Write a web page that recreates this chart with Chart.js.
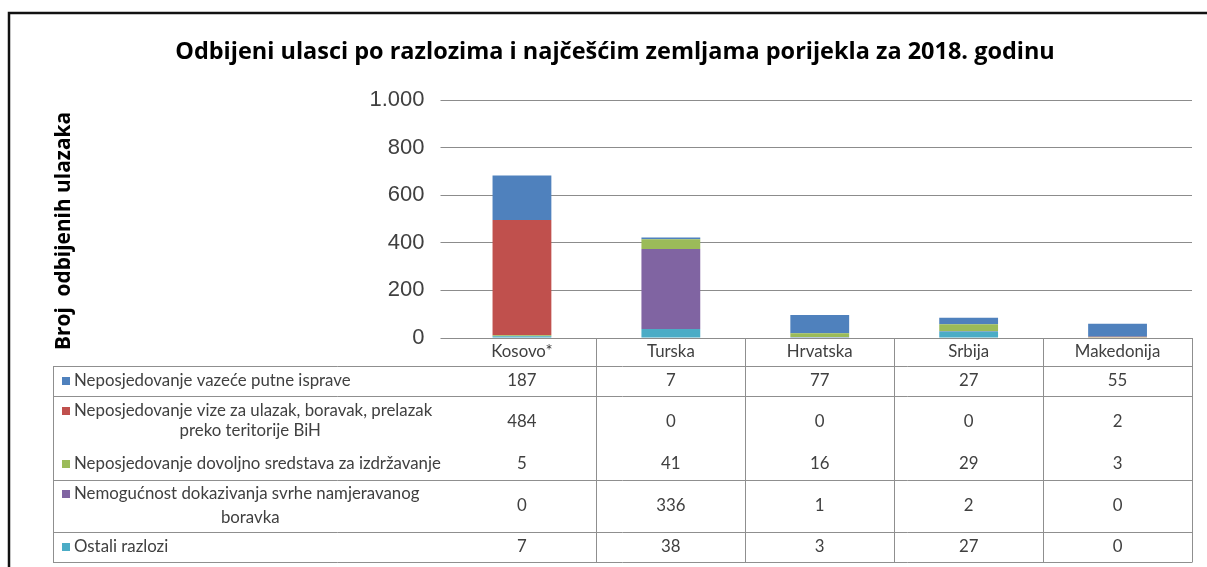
<!DOCTYPE html>
<html>
<head>
<meta charset="utf-8">
<script src="https://cdn.jsdelivr.net/npm/chart.js@4/dist/chart.umd.min.js"></script>
<style>
html,body{margin:0;padding:0;background:#fff;}
canvas{display:block;}
</style>
</head>
<body>
<canvas id="c" width="1207" height="567"></canvas>
<script>
const chartTitle = 'Odbijeni ulasci po razlozima i najčešćim zemljama porijekla za 2018. godinu';
const yTitle = 'Broj  odbijenih ulazaka';
const categories = ['Kosovo*', 'Turska', 'Hrvatska', 'Srbija', 'Makedonija'];
const putneIsprave = [187, 7, 77, 27, 55];
const vize = [484, 0, 0, 0, 2];
const sredstva = [5, 41, 16, 29, 3];
const svrha = [0, 336, 1, 2, 0];
const ostali = [7, 38, 3, 27, 0];
const yTicks = [0, 200, 400, 600, 800, 1000];

const labelPutne = ['Neposjedovanje vazeće putne isprave'];
const labelVize = ['Neposjedovanje vize za ulazak, boravak, prelazak', 'preko teritorije BiH'];
const labelSredstva = ['Neposjedovanje dovoljno sredstava za izdržavanje'];
const labelSvrha = ['Nemogućnost dokazivanja svrhe namjeravanog', 'boravka'];
const labelOstali = ['Ostali razlozi'];

const colors = {
  putne: '#4F81BD', vize: '#C0504D', sredstva: '#9BBB59', svrha: '#8064A2', ostali: '#4BACC6'
};

// datasets stacked bottom -> top
const datasets = [
  { key: 'ostali', label: labelOstali.join(' '), data: ostali, backgroundColor: colors.ostali },
  { key: 'svrha', label: labelSvrha.join(' '), data: svrha, backgroundColor: colors.svrha },
  { key: 'sredstva', label: labelSredstva.join(' '), data: sredstva, backgroundColor: colors.sredstva },
  { key: 'vize', label: labelVize.join(' '), data: vize, backgroundColor: colors.vize },
  { key: 'putne', label: labelPutne.join(' '), data: putneIsprave, backgroundColor: colors.putne }
];

// table rows (top -> bottom)
const tableRows = [
  { lines: labelPutne, data: putneIsprave, color: colors.putne, top: 366, bottom: 396, lineY: [381], valY: 381, borderBelow: true },
  { lines: labelVize, data: vize, color: colors.vize, top: 396, bottom: 448, lineY: [411, 431], valY: 422, borderBelow: false },
  { lines: labelSredstva, data: sredstva, color: colors.sredstva, top: 448, bottom: 480, lineY: [464], valY: 464, borderBelow: true },
  { lines: labelSvrha, data: svrha, color: colors.svrha, top: 480, bottom: 532, lineY: [494, 518], valY: 506, borderBelow: true },
  { lines: labelOstali, data: ostali, color: colors.ostali, top: 532, bottom: 562, lineY: [547], valY: 547, borderBelow: true }
];

function fitSize(ctx, text, family, weight, target, base) {
  ctx.font = weight + ' ' + base + 'px ' + family;
  const w = ctx.measureText(text).width;
  return base * target / w;
}

function fmt(v) {
  return String(v).replace(/\B(?=(\d{3})+(?!\d))/g, '.');
}

const decor = {
  id: 'decor',
  afterDraw(chart) {
    const ctx = chart.ctx;
    const xs = chart.scales.x;
    ctx.save();
    // outer frame
    ctx.strokeStyle = '#111';
    ctx.lineWidth = 2.5;
    ctx.beginPath();
    ctx.moveTo(9, 570); ctx.lineTo(9, 13); ctx.lineTo(1210, 13);
    ctx.stroke();

    // title
    const titleFam = '"Open Sans", "DejaVu Sans", sans-serif';
    const ts = fitSize(ctx, chartTitle, titleFam, 'bold', 880, 20);
    ctx.font = 'bold ' + ts.toFixed(2) + 'px ' + titleFam;
    ctx.fillStyle = '#000';
    ctx.textAlign = 'center';
    ctx.textBaseline = 'middle';
    ctx.fillText(chartTitle, 615, 52);

    // y title
    const ys = fitSize(ctx, yTitle, titleFam, 'bold', 238, 17);
    ctx.save();
    ctx.translate(64, 231);
    ctx.rotate(-Math.PI / 2);
    ctx.font = 'bold ' + ys.toFixed(2) + 'px ' + titleFam;
    ctx.fillText(yTitle, 0, 0);
    ctx.restore();

    // table geometry
    const n = categories.length;
    const step = xs.getPixelForValue(1) - xs.getPixelForValue(0);
    const centers = categories.map((c, i) => xs.getPixelForValue(i));
    const colLeft = centers[0] - step / 2;
    const right = centers[n - 1] + step / 2;
    const tLeft = 53;
    const hdrTop = 338, hdrBottom = 366, tBottom = 562;

    ctx.strokeStyle = '#8f8f8f';
    ctx.lineWidth = 1;
    ctx.beginPath();
    ctx.moveTo(tLeft, hdrBottom + 0.5); ctx.lineTo(right, hdrBottom + 0.5);
    tableRows.forEach(r => {
      if (r.borderBelow) { ctx.moveTo(tLeft, r.bottom + 0.5); ctx.lineTo(right, r.bottom + 0.5); }
    });
    ctx.moveTo(tLeft + 0.5, hdrBottom); ctx.lineTo(tLeft + 0.5, tBottom);
    for (let i = 1; i <= n; i++) {
      const x = Math.round(colLeft + i * step) + 0.5;
      ctx.moveTo(x, hdrTop); ctx.lineTo(x, tBottom + 0.5);
    }
    ctx.stroke();

    const tabFam = 'Lato, "Open Sans", sans-serif';
    const fs = fitSize(ctx, labelSredstva[0], tabFam, 'normal', 367, 14);
    ctx.font = fs.toFixed(2) + 'px ' + tabFam;
    ctx.textBaseline = 'middle';
    ctx.fillStyle = '#404040';
    ctx.textAlign = 'center';
    categories.forEach((c, i) => ctx.fillText(c, centers[i], 352));
    const labelCenter = (tLeft + colLeft) / 2;
    tableRows.forEach(r => {
      ctx.fillStyle = r.color;
      ctx.fillRect(62, r.lineY[0] - 4, 8, 8);
      ctx.fillStyle = '#404040';
      r.lines.forEach((t, k) => {
        if (k === 0) { ctx.textAlign = 'left'; ctx.fillText(t, 74, r.lineY[k]); }
        else { ctx.textAlign = 'center'; ctx.fillText(t, labelCenter, r.lineY[k]); }
      });
      ctx.textAlign = 'center';
      r.data.forEach((v, i) => ctx.fillText(String(v), centers[i], r.valY));
    });
    ctx.restore();
  }
};

new Chart(document.getElementById('c'), {
  type: 'bar',
  data: {
    labels: categories,
    datasets: datasets.map(d => ({
      label: d.label, data: d.data, backgroundColor: d.backgroundColor,
      borderWidth: 0, categoryPercentage: 1, barPercentage: 0.395
    }))
  },
  options: {
    responsive: false,
    animation: false,
    devicePixelRatio: 1,
    layout: { padding: { left: 0, top: 100, right: 15, bottom: 229 } },
    plugins: { legend: { display: false }, title: { display: false }, tooltip: { enabled: false } },
    scales: {
      x: { stacked: true, display: false },
      y: {
        stacked: true, min: 0, max: 1000,
        afterBuildTicks(scale) { scale.ticks = yTicks.map(v => ({ value: v })); },
        afterFit(scale) { scale.width = 447.5; },
        border: { display: false },
        grid: { color: '#8c8c8c', lineWidth: 1, tickLength: 7, drawTicks: true },
        ticks: {
          padding: 16,
          color: '#404040',
          font: { family: '"Liberation Sans", Arial, sans-serif', size: 22 },
          callback: v => fmt(v)
        }
      }
    }
  },
  plugins: [decor]
});
</script>
</body>
</html>
